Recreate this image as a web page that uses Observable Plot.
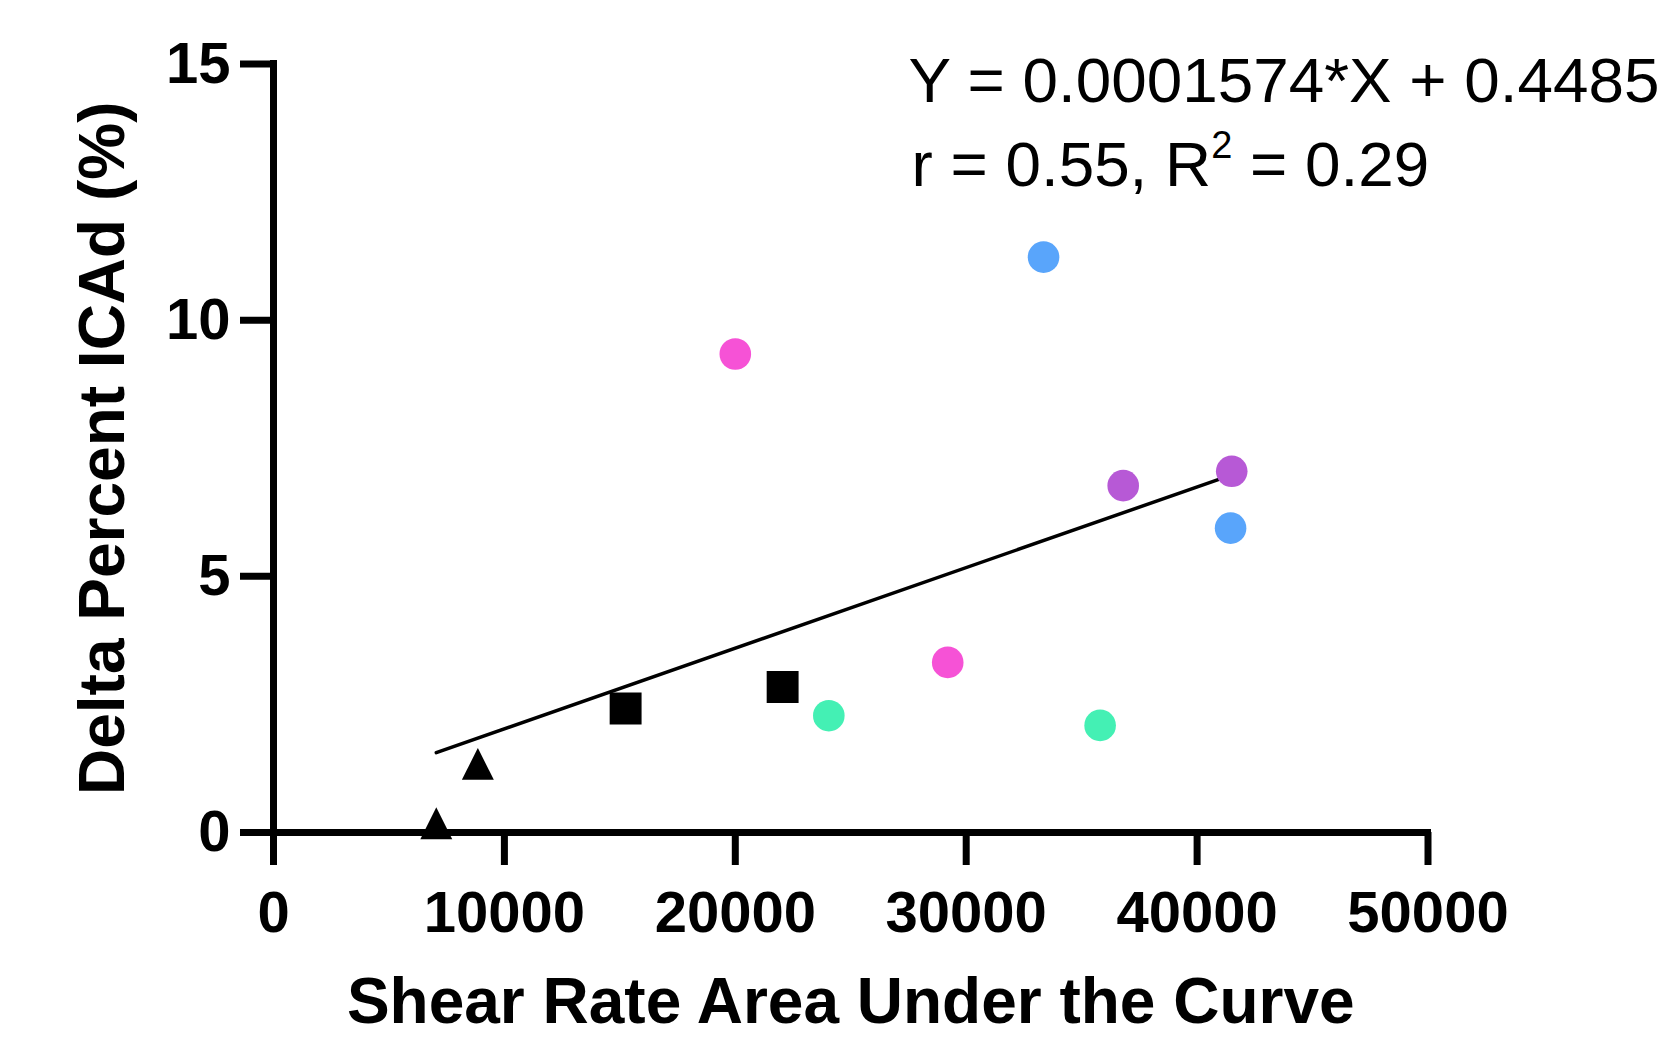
<!DOCTYPE html>
<html>
<head>
<meta charset="utf-8">
<script src="https://cdn.jsdelivr.net/npm/d3@7"></script>
<script src="https://cdn.jsdelivr.net/npm/@observablehq/plot@0.6"></script>
<style>
  html, body { margin: 0; padding: 0; background: #ffffff; }
  #chart { width: 1669px; height: 1037px; }
</style>
</head>
<body>
<div id="chart"></div>
<script>
// ---- data ----
const pointX = [7050, 8850, 15250, 22050, 24050, 35800, 20000, 29200, 33350, 41450, 36800, 41500];
const pointY = [0.18, 1.34, 2.42, 2.84, 2.28, 2.09, 9.34, 3.32, 11.23, 5.94, 6.77, 7.05];
const pointGroup = ["Group 1", "Group 1", "Group 2", "Group 2", "Group 3", "Group 3", "Group 4", "Group 4", "Group 5", "Group 5", "Group 6", "Group 6"];

const groupNames  = ["Group 1", "Group 2", "Group 3", "Group 4", "Group 5", "Group 6"];
const groupColors = ["#000000", "#000000", "#44F0B4", "#F652D6", "#59A5FB", "#B759D6"];
const groupShapes = ["triangle", "square", "circle", "circle", "circle", "circle"];

const xTicks = [0, 10000, 20000, 30000, 40000, 50000];
const yTicks = [0, 5, 10, 15];

const fitSlope = 0.0001574;
const fitIntercept = 0.4485;

const xLabel = "Shear Rate Area Under the Curve";
const yLabel = "Delta Percent ICAd (%)";
const eqLine1 = "Y = 0.0001574*X + 0.4485";
const eqLine2 = "r = 0.55, R\u00B2 = 0.29";

// ---- build rows ----
const rows = pointX.map((x, i) => ({
  x, y: pointY[i], group: pointGroup[i],
  shape: groupShapes[groupNames.indexOf(pointGroup[i])]
}));
const [xMin, xMax] = d3.extent(pointX);
const fitRows = [xMin, xMax].map(x => ({x, y: fitSlope * x + fitIntercept}));

const isoTriangle = {
  draw(context, size) {
    const s = Math.sqrt(size);
    context.moveTo(0, -s / 2);
    context.lineTo(s / 2, s / 2);
    context.lineTo(-s / 2, s / 2);
    context.closePath();
  }
};

const font = "'Liberation Sans', Arial, Helvetica, sans-serif";

const chart = Plot.plot({
  width: 1669,
  height: 1037,
  marginLeft: 273,
  marginRight: 241.5,
  marginTop: 63.5,
  marginBottom: 205,
  style: {fontFamily: font, background: "#ffffff", color: "#000000"},
  x: {domain: [0, 50000]},
  y: {domain: [0, 15]},
  color: {type: "ordinal", domain: groupNames, range: groupColors},
  marks: [
    Plot.axisX({ticks: xTicks, tickSize: 33, tickPadding: 25, strokeWidth: 7,
      fontSize: 58, fontWeight: "bold", tickFormat: d3.format("d"), label: null}),
    Plot.axisY({ticks: yTicks, tickSize: 33, tickPadding: 10, strokeWidth: 7,
      fontSize: 58, fontWeight: "bold", tickFormat: d3.format("d"), label: null}),
    Plot.ruleX([0], {y1: 0, y2: 15, strokeWidth: 7, strokeLinecap: "square"}),
    Plot.ruleY([0], {x1: 0, x2: 50000, strokeWidth: 7, strokeLinecap: "square"}),
    Plot.line(fitRows, {x: "x", y: "y", stroke: "#000000", strokeWidth: 3.5}),
    Plot.dot(rows.filter(d => d.shape === "circle"), {x: "x", y: "y", r: 15.8, fill: "group", stroke: "none"}),
    Plot.dot(rows.filter(d => d.shape === "square"), {x: "x", y: "y", r: 18, symbol: "square", fill: "group", stroke: "none"}),
    Plot.dot(rows.filter(d => d.shape === "triangle"), {x: "x", y: "y", r: 18, symbol: isoTriangle, fill: "group", stroke: "none"}),
    Plot.text([xLabel], {frameAnchor: "bottom", dy: 190.7, text: d => d, fontSize: 64, fontWeight: "bold",
      textAnchor: "middle", lineAnchor: "bottom", fill: "#000000"}),
    Plot.text([yLabel], {frameAnchor: "left", dx: -150, text: d => d, fontSize: 64, fontWeight: "bold",
      rotate: -90, textAnchor: "middle", lineAnchor: "bottom", fill: "#000000"}),
    Plot.text([eqLine1], {frameAnchor: "top-left", dx: 635, dy: 38.2, text: d => d, fontSize: 63.8,
      textAnchor: "start", lineAnchor: "bottom", fill: "#000000"}),
    Plot.text([eqLine2], {frameAnchor: "top-left", dx: 638, dy: 121.5, text: d => d, fontSize: 63.8,
      textAnchor: "start", lineAnchor: "bottom", fill: "#000000"})
  ]
});

document.getElementById("chart").appendChild(chart);

// render the R² exponent as a raised "2"
d3.select(chart).selectAll("text").each(function () {
  const t = this.textContent;
  if (t === eqLine2) {
    const [before, after] = t.split("\u00B2");
    const el = d3.select(this);
    el.text(null);
    el.append("tspan").text(before);
    el.append("tspan").attr("dy", -28).attr("font-size", 38).text("2");
    el.append("tspan").attr("dy", 28).text(after);
  }
});
</script>
</body>
</html>
